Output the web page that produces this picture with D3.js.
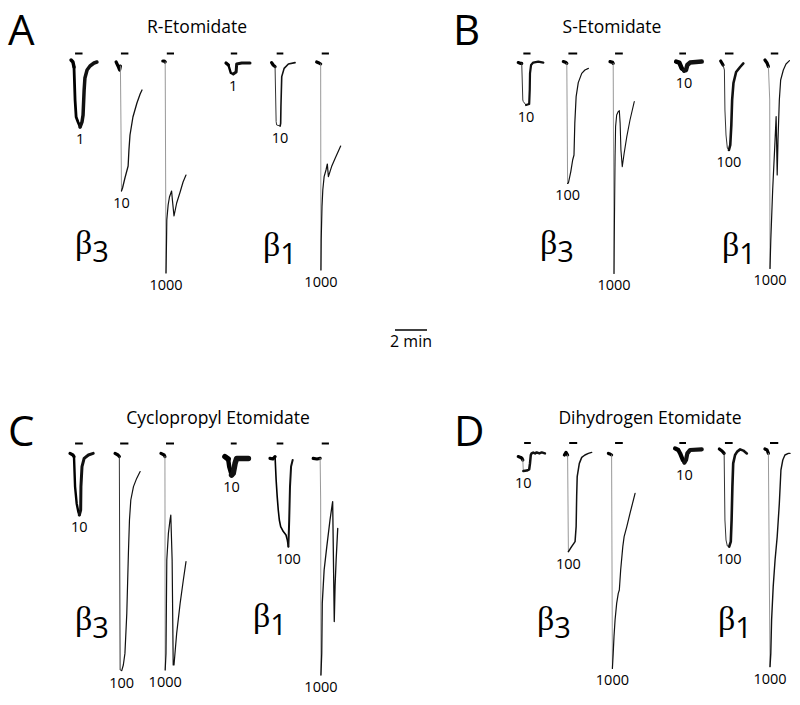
<!DOCTYPE html>
<html>
<head>
<meta charset="utf-8">
<script src="https://cdn.jsdelivr.net/npm/d3@7"></script>
<style>
  body { margin: 0; background: #fff; }
  svg { display: block; }
  text { font-family: "Open Sans", sans-serif; fill: #000; }
</style>
</head>
<body>
<div id="chart"></div>
<script>
// time in s from panel start, current in uA (inward = negative)
var panelLetters = ["A", "B", "C", "D"];
var panelTitles = ["R-Etomidate", "S-Etomidate", "Cyclopropyl Etomidate", "Dihydrogen Etomidate"];
var subunits = ["3", "1"];   // beta subunit of each half of a panel

// concentrations (uM) of each trace, per panel
var concA = ["1", "10", "1000", "1", "10", "1000"];
var concB = ["10", "100", "1000", "10", "100", "1000"];
var concC = ["10", "100", "1000", "10", "100", "1000"];
var concD = ["10", "100", "1000", "10", "100", "1000"];

// drug application windows [start, end] (s)
var appA = [[19, 47], [191, 219], [363, 390], [603, 627], [775, 800], [944, 971]];
var appB = [[20, 47], [189, 222], [364, 393], [605, 630], [776, 808], [948, 976]];
var appC = [[19, 48], [188, 219], [360, 390], [603, 625], [775, 800], [944, 971]];
var appD = [[23, 48], [192, 222], [364, 393], [605, 630], [776, 805], [945, 976]];

// traces [t, I]
var traceA = [
  [[4,0.1],[11,0],[15,-0.25],[19,-1.9],[23,-2.75],[30,-3],[38,-3.25],[45,-3],[49,-2.65],[53,-1.4],[56,-0.8],[64,-0.4],[75,-0.2],[90,-0.05],[101,0]],
  [[173,0],[180,-0.2],[186,-0.4],[189,-0.2],[191,-2.9],[193,-6.45],[197,-6.3],[206,-5.8],[218,-5.2],[221,-4.4],[225,-3.65],[236,-2.75],[251,-2.05],[263,-1.6],[270,-1.4]],
  [[348,0.05],[353,0.05],[357,0],[360,-10.55],[362,-8.9],[363,-7.9],[368,-7.15],[373,-6.75],[381,-6.45],[384,-6.9],[390,-7.7],[400,-7.05],[413,-6.5],[424,-6],[435,-5.65]],
  [[585,-0.05],[594,-0.15],[603,-0.55],[612,-0.6],[623,-0.5],[625,-0.1],[644,-0.05],[675,-0.05]],
  [[756,-0.03],[762,-0.15],[769,-0.23],[773,-2.98],[775,-3.15],[788,-3.2],[790,-3.07],[791,-2.23],[794,-0.73],[803,-0.32],[819,-0.1],[844,-0.03]],
  [[925,0],[934,-0.05],[940,-0.1],[941,-10.4],[942,-8.9],[945,-7.23],[948,-6.4],[953,-5.73],[960,-5.4],[965,-5.1],[969,-5.73],[975,-5.48],[981,-5.23],[994,-4.82],[1015,-4.2]]
];
var traceB = [
  [[1,-0.03],[10,-0.07],[14,-0.07],[18,-1.9],[20,-1.98],[30,-2.15],[42,-2.1],[44,-1.4],[45,-0.57],[49,-0.15],[57,-0.03],[76,0.02],[95,-0.03]],
  [[170,0.02],[180,-0.03],[183,-0.07],[186,-6.07],[189,-6.05],[198,-5.48],[205,-4.9],[210,-4.65],[213,-3.07],[218,-1.73],[226,-1.03],[239,-0.57],[251,-0.4],[264,-0.32]],
  [[345,0.02],[355,-0.02],[357,-0.07],[360,-10.57],[361,-8.9],[364,-4.73],[366,-3.23],[370,-2.65],[376,-2.48],[380,-2.43],[383,-3.07],[386,-4.4],[391,-5.23],[398,-4.57],[408,-3.73],[420,-2.9],[436,-1.98]],
  [[593,0.02],[605,-0.03],[614,-0.32],[623,-0.43],[630,-0.4],[635,-0.15],[645,-0.03],[689,0.02]],
  [[760,0.05],[769,-0.15],[774,-0.4],[776,-2.4],[780,-3.65],[785,-4.3],[791,-4.4],[796,-4.15],[800,-3.15],[803,-1.9],[808,-1.05],[818,-0.5],[833,-0.25],[845,-0.07]],
  [[926,0.1],[934,-0.05],[939,-0.23],[944,-1.9],[945,-10.32],[948,-8.9],[955,-6.4],[964,-3.9],[968,-2.73],[972,-5.65],[975,-3.9],[980,-1.9],[985,-0.9],[995,-0.4],[1005,-0.1],[1018,0.07]]
];
var traceC = [
  [[0,0.08],[11,0],[15,-0.08],[19,-1.58],[25,-2.42],[31,-2.83],[35,-3],[40,-2.75],[41,-1.58],[45,-0.58],[53,-0.17],[69,0],[87,0.08]],
  [[169,0.08],[180,0],[185,-0.08],[188,-10.75],[194,-10.78],[200,-10.5],[206,-9.92],[213,-7.92],[219,-4.92],[223,-3.25],[228,-2.25],[238,-1.58],[250,-1.17],[263,-0.83]],
  [[341,0.08],[353,0],[356,-0.08],[357,-10.75],[360,-9.92],[363,-5.25],[369,-3.92],[375,-3.25],[378,-3],[383,-5.25],[387,-10.5],[390,-10.5],[400,-8.92],[413,-7.42],[425,-6.25],[435,-5.33]],
  [[581,-0.08],[593,-0.2],[597,-0.58],[606,-1],[612,-0.92],[619,-0.42],[625,-0.17],[669,-0.17]],
  [[750,-0.17],[761,-0.2],[769,-0.08],[773,-1.25],[777,-2.08],[781,-2.75],[785,-3.25],[790,-3.58],[800,-3.83],[810,-4],[815,-4.25],[819,-4.58],[822,-3.25],[825,-1.58],[829,-0.58],[835,-0.25]],
  [[912,-0.17],[926,-0.2],[938,-0.17],[940,-2.25],[941,-11],[944,-9.92],[946,-7.42],[953,-5.75],[963,-4.58],[975,-3.25],[983,-2.5],[985,-2.33],[991,-8.33],[994,-6.58],[998,-5.25],[1004,-3.67]]
];
var traceD = [
  [[1,-0.13],[10,-0.17],[15,-0.22],[18,-0.3],[20,-0.85],[33,-0.83],[42,-0.77],[45,-0.47],[48,-0.05],[51,0.03],[57,0.07],[64,0.03],[70,0.08],[80,0.03],[89,0.08],[101,0.03]],
  [[174,-0.05],[180,0.08],[186,-0.05],[189,-4.88],[201,-4.63],[214,-4.38],[218,-3.63],[220,-2.13],[222,-1.13],[230,-0.47],[239,-0.17],[251,-0.05],[264,0.03],[276,0.08]],
  [[339,0.03],[345,0],[351,-0.05],[354,-10.72],[357,-9.97],[360,-9.13],[364,-8.3],[370,-7.47],[376,-6.97],[380,-6.8],[385,-5.8],[393,-4.63],[398,-4.13],[408,-3.63],[420,-2.97],[439,-1.97]],
  [[589,0.28],[601,0.2],[608,0.03],[618,-0.3],[624,-0.43],[630,-0.3],[635,0.03],[645,0.2],[689,0.23]],
  [[755,0.25],[765,0.15],[773,0.03],[776,-3.3],[780,-4.3],[785,-4.6],[792,-4.63],[798,-4.38],[801,-3.3],[804,-1.63],[807,-0.47],[814,-0.05],[822,0.12],[833,0.23],[845,0.17],[858,0.03]],
  [[926,0.25],[934,0.2],[939,0.03],[945,-10.63],[948,-9.97],[951,-8.3],[957,-6.63],[964,-5.3],[972,-4.13],[976,-3.3],[980,-2.47],[983,-1.63],[986,-0.8],[993,-0.3],[1001,-0.05],[1014,0.03],[1020,0.03]]
];

var concs = [concA, concB, concC, concD];
var apps = [appA, appB, appC, appD];
var traces = [traceA, traceB, traceC, traceD];

// layout (px)
var origins = [[70, 62], [518, 62], [70, 455], [518, 454]];
var barOffset = [-8.5, -8.5, -11.5, -11];
var letterPos = [[8, 45], [453, 45], [8, 446], [454, 446]];
var titlePos = [[197, 33], [612, 33], [218, 424], [650, 424]];
var betaPos = [
  [[75, 254], [263, 256]],
  [[540, 254], [722, 256]],
  [[75, 630], [253, 627]],
  [[537, 630], [718, 630]]
];
// noise thickness of each recording
var widths = [
  [3.5, 1.3, 1.2, 3, 1.6, 1.2],
  [2.2, 1.2, 1.1, 4.5, 2.6, 1.2],
  [3, 1.2, 1.2, 5.5, 2, 1.3],
  [2.5, 1.5, 1.2, 4.2, 2.6, 1.4]
];

var svg = d3.select("#chart").append("svg")
    .attr("width", 800)
    .attr("height", 705);

var x = d3.scaleLinear().domain([0, 1050]).range([0, 280]);   // 3.75 s per px
var y = d3.scaleLinear().domain([0, -11]).range([0, 220]);

var line = d3.line()
    .x(function(d) { return x(d[0]); })
    .y(function(d) { return y(d[1]); });

function drawPart(g, pts, w, col) {
    if (pts.length < 2) return;
    g.append("path")
        .attr("d", line(pts))
        .attr("fill", "none")
        .attr("stroke", col)
        .attr("stroke-width", w)
        .attr("stroke-linejoin", "round")
        .attr("stroke-linecap", "round");
}

traces.forEach(function(panel, pi) {
    var g = svg.append("g")
        .attr("transform", "translate(" + origins[pi][0] + "," + origins[pi][1] + ")");

    panel.forEach(function(pts, ti) {
        var w = widths[pi][ti];
        var minI = d3.minIndex(pts, function(d) { return d[1]; });
        var lo = pts[minI][1];
        // baseline before the response
        var thr = Math.max(0.08 * Math.abs(lo), 0.35);
        var k = 0;
        while (k + 1 < minI && Math.abs(pts[k + 1][1]) < thr) k++;
        var base = pts.slice(0, k + 1);
        var fall = pts.slice(k, minI + 1);
        var rest = pts.slice(minI);
        var fallDur = pts[minI][0] - pts[k][0];

        drawPart(g, base, Math.max(w, 3.2), "#000");
        if (w >= 3 || fallDur > 25) drawPart(g, fall, w * 0.8, "#000");
        else if (fallDur > 8) drawPart(g, fall, 1, "#333");
        else drawPart(g, fall, 0.9, "#8c8c8c");
        drawPart(g, rest, w, "#111");

        // application bar
        var a = apps[pi][ti];
        g.append("line")
            .attr("x1", x(a[0])).attr("x2", x(a[1]))
            .attr("y1", barOffset[pi]).attr("y2", barOffset[pi])
            .attr("stroke", "#000")
            .attr("stroke-width", 2);

        // concentration label
        g.append("text")
            .attr("x", x(pts[minI][0]))
            .attr("y", y(lo) + 17)
            .attr("text-anchor", "middle")
            .attr("font-size", 14.5)
            .text(concs[pi][ti]);
    });

    svg.append("text")
        .attr("x", letterPos[pi][0])
        .attr("y", letterPos[pi][1])
        .attr("font-size", 42)
        .text(panelLetters[pi]);

    svg.append("text")
        .attr("x", titlePos[pi][0])
        .attr("y", titlePos[pi][1])
        .attr("text-anchor", "middle")
        .attr("font-size", 17.5)
        .text(panelTitles[pi]);

    betaPos[pi].forEach(function(p, bi) {
        var t = svg.append("text")
            .attr("x", p[0])
            .attr("y", p[1]);
        t.append("tspan")
            .style("font-family", "'Liberation Serif', serif")
            .attr("font-size", 34)
            .text("β");
        t.append("tspan")
            .attr("dy", 8)
            .attr("font-size", 29)
            .text(subunits[bi]);
    });
});

// scale bar: 2 min
var sb = svg.append("g").attr("transform", "translate(395,330)");
sb.append("line")
    .attr("x1", x(0)).attr("x2", x(120))
    .attr("y1", 0).attr("y2", 0)
    .attr("stroke", "#000")
    .attr("stroke-width", 1.5);
sb.append("text")
    .attr("x", x(60))
    .attr("y", 17)
    .attr("text-anchor", "middle")
    .attr("font-size", 16)
    .text("2 min");
</script>
</body>
</html>
